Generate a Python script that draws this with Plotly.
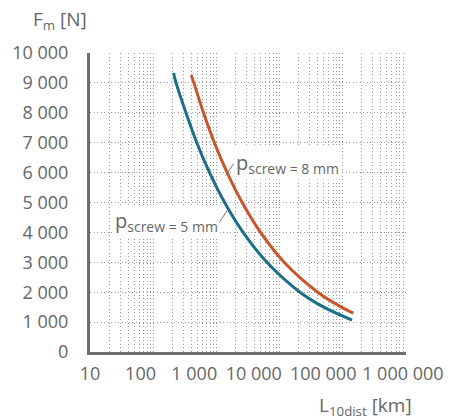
import plotly.graph_objects as go

# Nominal life of the ball screw vs. mean axial load, for two screw pitches
life_p5_km = [210, 230, 330, 490, 780, 1350, 2650, 6300, 21000, 50000, 140000]
load_p5_n = [9330, 9000, 8000, 7000, 6000, 5000, 4000, 3000, 2000, 1500, 1070]

life_p8_km = [400, 440, 625, 930, 1480, 2560, 5000, 11800, 40000, 95000, 147000]
load_p8_n = [9260, 9000, 8000, 7000, 6000, 5000, 4000, 3000, 2000, 1500, 1300]

y_tick_values = [0, 1000, 2000, 3000, 4000, 5000, 6000, 7000, 8000, 9000, 10000]
y_tick_labels = ["0", "1 000", "2 000", "3 000", "4 000", "5 000",
                 "6 000", "7 000", "8 000", "9 000", "10 000"]
x_tick_labels = ["10", "100", "1 000", "10 000", "100 000", "1 000 000"]

TEXT = "#666666"
GRID = "#999999"
AXIS = "#6e6e6e"
FONT = "Open Sans"
DOTS = "1px,2.5px"

fig = go.Figure()
fig.add_trace(go.Scatter(x=life_p5_km, y=load_p5_n, mode="lines",
                         line=dict(color="#1d6e86", width=3, shape="spline"),
                         hoverinfo="skip", showlegend=False))
fig.add_trace(go.Scatter(x=life_p8_km, y=load_p8_n, mode="lines",
                         line=dict(color="#c9552c", width=3, shape="spline"),
                         hoverinfo="skip", showlegend=False))

# label row under the log axis (placed in decade units)
label_decades = [1.0, 1.80, 2.65, 3.59, 4.69, 5.95]
fig.add_trace(go.Scatter(x=[1, 6], y=[None, None], xaxis="x2", yaxis="y",
                         showlegend=False, hoverinfo="skip"))

fig.update_layout(
    width=460, height=419,
    margin=dict(l=88, r=54, t=53, b=67),
    paper_bgcolor="white", plot_bgcolor="white",
    font=dict(family=FONT, color=TEXT, size=18),
    xaxis=dict(type="log", range=[1, 6], dtick=1,
               showticklabels=False, ticks="",
               showgrid=True, gridcolor=GRID, gridwidth=1, griddash=DOTS,
               minor=dict(dtick="D1", showgrid=True, gridcolor=GRID,
                          gridwidth=1, griddash=DOTS, ticks=""),
               showline=True, linecolor=AXIS, linewidth=3,
               zeroline=False, fixedrange=True),
    xaxis2=dict(overlaying="x", anchor="y", side="bottom", range=[1, 6],
                tickmode="array", tickvals=label_decades, ticktext=x_tick_labels,
                showgrid=False, showline=False, zeroline=False, ticks="",
                ticklabelstandoff=9, tickfont=dict(size=18, color=TEXT)),
    yaxis=dict(range=[0, 10000], tickmode="array",
               tickvals=y_tick_values, ticktext=y_tick_labels,
               showgrid=True, gridcolor=GRID, gridwidth=1, griddash=DOTS,
               showline=True, linecolor=AXIS, linewidth=3,
               zeroline=False, ticks="", ticklabelstandoff=15,
               tickfont=dict(size=18, color=TEXT), fixedrange=True),
)

# axis titles
fig.add_annotation(text="F<sub>m</sub> [N]", xref="paper", yref="paper",
                   x=-0.1855, y=1.11, xanchor="left", yanchor="middle",
                   showarrow=False, font=dict(size=19, color=TEXT))
fig.add_annotation(text="L<sub>10dist</sub> [km]", xref="paper", yref="paper",
                   x=1.025, y=-0.18, xanchor="right", yanchor="middle",
                   showarrow=False, font=dict(size=19, color=TEXT))

# curve callouts
fig.add_annotation(text="p<sub>screw = 5 mm</sub>", x=3.176, y=4750,
                   ax=-8, ay=12, xanchor="right", yanchor="middle",
                   showarrow=True, arrowhead=0, arrowwidth=1, arrowcolor="#777777",
                   bgcolor="white", borderpad=1,
                   font=dict(size=20, color=TEXT))
fig.add_annotation(text="p<sub>screw = 8 mm</sub>", x=3.146, y=5900,
                   ax=8, ay=-12, xanchor="left", yanchor="middle",
                   showarrow=True, arrowhead=0, arrowwidth=1, arrowcolor="#777777",
                   bgcolor="white", borderpad=1,
                   font=dict(size=20, color=TEXT))

fig.write_html("out.html")
